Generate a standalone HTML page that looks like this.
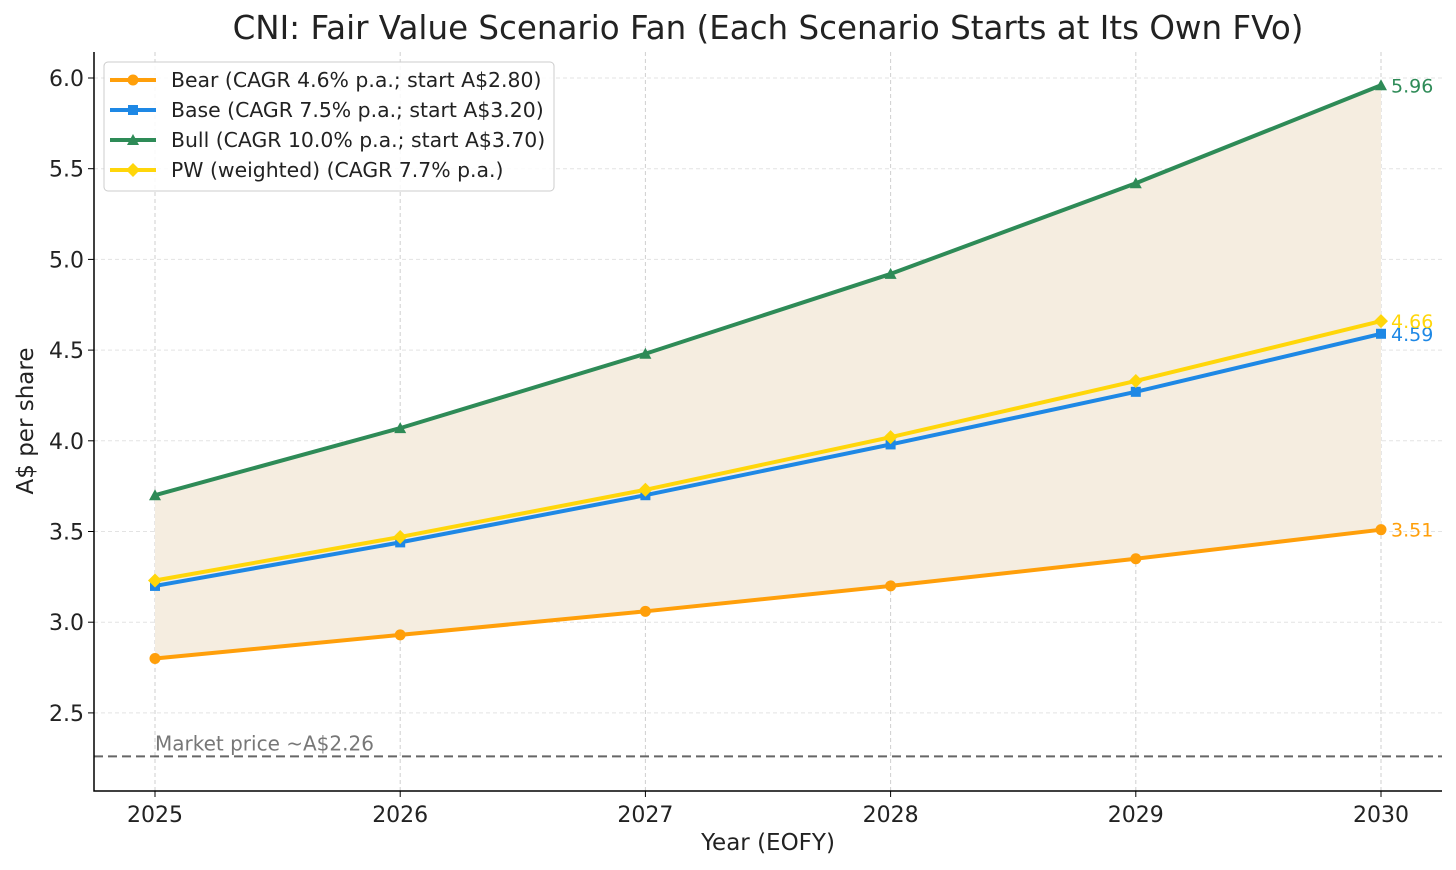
<!DOCTYPE html>
<html><head><meta charset="utf-8"><style>
body{margin:0;background:#fff;}
svg{display:block;font-family:"DejaVu Sans","Liberation Sans",sans-serif;}
</style></head><body>
<svg id="chart" width="1456" height="870" viewBox="0 0 1456 870"></svg>
<script>
const years=[2025,2026,2027,2028,2029,2030];
const bear=[2.80,2.93,3.06,3.20,3.35,3.51];
const base=[3.20,3.44,3.70,3.98,4.27,4.59];
const bull=[3.70,4.07,4.48,4.92,5.42,5.96];
const pw=[3.23,3.47,3.73,4.02,4.33,4.66];
const yTicks=[2.5,3.0,3.5,4.0,4.5,5.0,5.5,6.0];
const marketPrice=2.26;
const seriesNames=["Bear (CAGR 4.6% p.a.; start A$2.80)","Base (CAGR 7.5% p.a.; start A$3.20)","Bull (CAGR 10.0% p.a.; start A$3.70)","PW (weighted) (CAGR 7.7% p.a.)"];

const svg=document.getElementById('chart');
const NS='http://www.w3.org/2000/svg';
const L=94,R=1442,T=52,B=791;
const x=v=>155+(v-2025)*245.2;
const y=v=>78+(6-v)*181.4;
function el(tag,attrs,parent){const e=document.createElementNS(NS,tag);for(const k in attrs)e.setAttribute(k,attrs[k]);(parent||svg).appendChild(e);return e;}

yTicks.forEach(t=>{
  const g=el('line',{x1:L,x2:R,y1:y(t),y2:y(t),stroke:'#e3e3e3','stroke-dasharray':'4,3','stroke-width':1});
  
  
  const tk=el('line',{x1:L-6,x2:L,y1:y(t),y2:y(t),stroke:'#000'});
  
  
  const lb=el('text',{x:L-10,y:y(t)+8,'text-anchor':'end','font-size':22,fill:'#222'});
  lb.textContent=t.toFixed(1);
  
  
});
years.forEach(yr=>{
  const g=el('line',{x1:x(yr),x2:x(yr),y1:T,y2:B,stroke:'#cfcfcf','stroke-dasharray':'4,3','stroke-width':1});
  
  
  const tk=el('line',{x1:x(yr),x2:x(yr),y1:B,y2:B+6,stroke:'#000'});
  
  
  const lb=el('text',{x:x(yr),y:B+31,'text-anchor':'middle','font-size':22,fill:'#222'});
  lb.textContent=yr;
  
  
});

let d='M'+years.map((yr,i)=>x(yr)+','+y(bull[i])).join('L')+'L'+years.slice().reverse().map((yr,j)=>x(yr)+','+y(bear[years.length-1-j])).join('L')+'Z';
const band=el('path',{d:d,fill:'#f5ede0'});



const mp=el('line',{x1:L,x2:R,y1:y(marketPrice),y2:y(marketPrice),stroke:'#666','stroke-dasharray':'9,5','stroke-width':2});


const mpl=el('text',{x:155,y:y(marketPrice)-6,'font-size':20,fill:'#777'});
mpl.textContent='Market price ~A$'+marketPrice.toFixed(2);



function marker(type,cx,cy,c,parent){
  if(type==='o')return el('circle',{cx:cx,cy:cy,r:5.5,fill:c},parent);
  if(type==='s')return el('rect',{x:cx-5,y:cy-5,width:10,height:10,fill:c},parent);
  if(type==='^')return el('path',{d:`M${cx},${cy-6}L${cx+6},${cy+5}L${cx-6},${cy+5}Z`,fill:c},parent);
  return el('path',{d:`M${cx},${cy-7}L${cx+7},${cy}L${cx},${cy+7}L${cx-7},${cy}Z`,fill:c},parent);
}
const series=[[bear,'#ff9f0a','o','bear'],[base,'#1e88e5','s','base'],[bull,'#2e8b57','^','bull'],[pw,'#ffd60a','D','pw']];
series.forEach(([vals,c,m,name])=>{
  const g=el('g',{});
  
  
  el('polyline',{points:years.map((yr,i)=>x(yr)+','+y(vals[i])).join(' '),fill:'none',stroke:c,'stroke-width':4},g);
  years.forEach((yr,i)=>{const p=marker(m,x(yr),y(vals[i]),c,g);
    
    });
  const last=vals[vals.length-1];
  const t=el('text',{x:x(2030)+10,y:y(last)+7,'font-size':19,fill:c},g);
  t.textContent=last.toFixed(2);
  
  
});

const ax=el('path',{d:`M${L},${T}L${L},${B}L${R},${B}`,fill:'none',stroke:'#000','stroke-width':1.5});



const lg=el('g',{});


el('rect',{x:104,y:62,width:450,height:129,rx:4,fill:'#fff','fill-opacity':0.85,stroke:'#ccc'},lg);
series.forEach(([vals,c,m,name],i)=>{
  const cy=80+i*30;
  const e=el('g',{},lg);
  
  
  el('line',{x1:110,x2:156,y1:cy,y2:cy,stroke:c,'stroke-width':4},e);
  marker(m,133,cy,c,e);
  const t=el('text',{x:171,y:cy+7,'font-size':20.4,fill:'#222'},e);
  t.textContent=seriesNames[i];
});

const tt=el('text',{x:768,y:39,'text-anchor':'middle','font-size':32.5,fill:'#222'});
tt.textContent='CNI: Fair Value Scenario Fan (Each Scenario Starts at Its Own FVo)';


const xt=el('text',{x:768,y:850,'text-anchor':'middle','font-size':23,fill:'#222'});
xt.textContent='Year (EOFY)';


const yt=el('text',{x:33,y:421,'text-anchor':'middle','font-size':23,fill:'#222',transform:'rotate(-90 33 421)'});
yt.textContent='A$ per share';


</script>
</body></html>
